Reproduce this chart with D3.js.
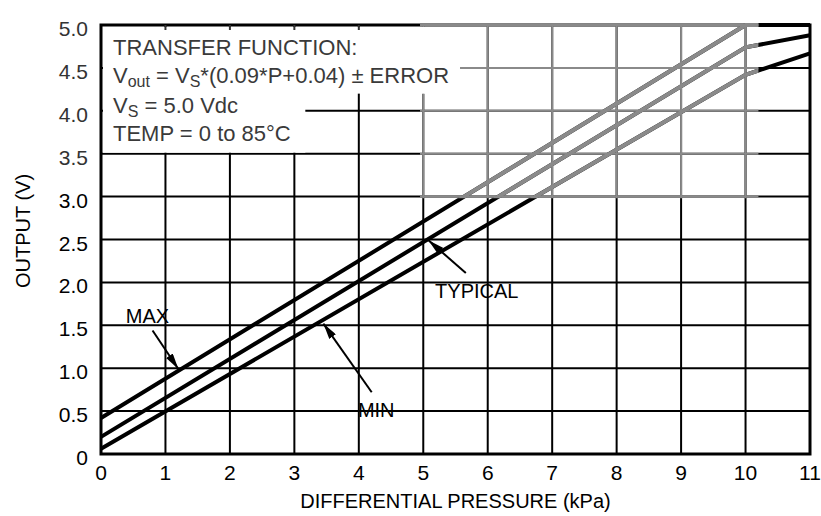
<!DOCTYPE html>
<html>
<head>
<meta charset="utf-8">
<script src="https://cdn.jsdelivr.net/npm/d3@7"></script>
<style>
  body { margin: 0; background: #fff; }
  text { font-family: "Liberation Sans", Arial, sans-serif; }
</style>
</head>
<body>
<script>
// output curves
var pressure = [0, 10, 11];
var maxOut   = [0.42, 5.0, 5.0];
var typOut   = [0.20, 4.74, 4.88];
var minOut   = [0.06, 4.42, 4.67];

var xTicks = [0, 1, 2, 3, 4, 5, 6, 7, 8, 9, 10, 11];
var yTicks = [0, 0.5, 1.0, 1.5, 2.0, 2.5, 3.0, 3.5, 4.0, 4.5, 5.0];
var yTickLabels = ['0', '0.5', '1.0', '1.5', '2.0', '2.5', '3.0', '3.5', '4.0', '4.5', '5.0'];

var WIDTH = 821, HEIGHT = 516;

var svg = d3.select('body').append('svg')
  .attr('width', WIDTH)
  .attr('height', HEIGHT);

var x = d3.scaleLinear().domain([0, 11]).range([101, 810]);
var y = d3.scaleLinear().domain([0, 5]).range([454, 25]);

var series = [maxOut, typOut, minOut].map(function(vals) {
  return vals.map(function(v, i) { return [pressure[i], v]; });
});

var line = d3.line()
  .x(function(d) { return x(d[0]); })
  .y(function(d) { return y(d[1]); });

var defs = svg.append('defs');
defs.append('clipPath').attr('id', 'faded')
  .append('rect')
  .attr('x', 420).attr('y', 0)
  .attr('width', x(10.2) - 420).attr('height', y(2.98));

// grid + curves, drawn once in black and once in grey (the faded part of the scan)
function drawPlot(g, ink) {
  g.selectAll('.vgrid')
    .data(xTicks.slice(1, -1))
    .enter().append('line')
    .attr('x1', x).attr('x2', x)
    .attr('y1', y(0)).attr('y2', y(5))
    .attr('stroke', ink).attr('stroke-width', 2);

  g.selectAll('.hgrid')
    .data(yTicks.slice(1, -1))
    .enter().append('line')
    .attr('x1', x(0)).attr('x2', x(11))
    .attr('y1', y).attr('y2', y)
    .attr('stroke', ink).attr('stroke-width', 2);

  // white box behind the transfer function text
  g.append('rect')
    .attr('x', x(0) + 2).attr('y', y(5) + 2)
    .attr('width', x(3.17) - x(0) - 2).attr('height', y(3.5) - y(5) - 3)
    .attr('fill', '#fff');
  g.append('rect')
    .attr('x', x(3.1)).attr('y', y(5) + 2)
    .attr('width', x(5.57) - x(3.1)).attr('height', y(4.2) - y(5) - 2)
    .attr('fill', '#fff');

  g.selectAll('.curve')
    .data(series)
    .enter().append('path')
    .attr('d', line)
    .attr('fill', 'none')
    .attr('stroke', ink)
    .attr('stroke-width', 4);

  g.append('rect')
    .attr('x', x(0)).attr('y', y(5))
    .attr('width', x(11) - x(0)).attr('height', y(0) - y(5))
    .attr('fill', 'none').attr('stroke', ink).attr('stroke-width', 3);
}

drawPlot(svg.append('g'), '#000');
drawPlot(svg.append('g').attr('clip-path', 'url(#faded)'), '#8a8a8a');

svg.selectAll('.topTick')
  .data(xTicks.slice(1, 5))
  .enter().append('line')
  .attr('x1', x).attr('x2', x)
  .attr('y1', y(5)).attr('y2', y(5) + 5)
  .attr('stroke', '#333').attr('stroke-width', 2);

// axis labels
svg.selectAll('.xlab')
  .data(xTicks)
  .enter().append('text')
  .attr('x', x)
  .attr('y', y(0) + 26)
  .attr('text-anchor', 'middle')
  .attr('font-size', 21)
  .text(function(d) { return d; });

svg.selectAll('.ylab')
  .data(yTicks)
  .enter().append('text')
  .attr('x', 88)
  .attr('y', function(d) { return y(d) + 11; })
  .attr('text-anchor', 'end')
  .attr('font-size', 21)
  .attr('fill', function(d) { return d >= 3.5 ? '#333' : '#000'; })
  .text(function(d, i) { return yTickLabels[i]; });

svg.append('text')
  .attr('x', x(5.5))
  .attr('y', 508)
  .attr('text-anchor', 'middle')
  .attr('font-size', 20)
  .text('DIFFERENTIAL PRESSURE (kPa)');

svg.append('text')
  .attr('transform', 'translate(30,' + y(2.6) + ') rotate(-90)')
  .attr('text-anchor', 'middle')
  .attr('font-size', 20)
  .text('OUTPUT (V)');

// transfer function block
var info = svg.append('g').attr('fill', '#3a3a3a').attr('font-size', 22);
info.append('text').attr('x', 113).attr('y', 55).text('TRANSFER FUNCTION:');
var l2 = info.append('text').attr('x', 113).attr('y', 83);
l2.append('tspan').text('V');
l2.append('tspan').attr('font-size', 16).attr('dy', 4).text('out');
l2.append('tspan').attr('dy', -4).text(' = V');
l2.append('tspan').attr('font-size', 16).attr('dy', 4).text('S');
l2.append('tspan').attr('dy', -4).text('*(0.09*P+0.04) \u00b1 ERROR');
var l3 = info.append('text').attr('x', 113).attr('y', 113);
l3.append('tspan').text('V');
l3.append('tspan').attr('font-size', 16).attr('dy', 4).text('S');
l3.append('tspan').attr('dy', -4).text(' = 5.0 Vdc');
info.append('text').attr('x', 113).attr('y', 141).text('TEMP = 0 to 85\u00b0C');

// callouts
var callouts = [
  {label: 'MAX',     tx: 0.72, ty: 1.53, from: [0.80, 1.44], to: [1.20, 0.99]},
  {label: 'TYPICAL', tx: 5.83, ty: 1.82, from: [5.66, 2.11], to: [5.08, 2.49]},
  {label: 'MIN',     tx: 4.27, ty: 0.43, from: [4.20, 0.72], to: [3.45, 1.52]}
];

defs.append('marker')
  .attr('id', 'head')
  .attr('viewBox', '0 0 16 8')
  .attr('refX', 16).attr('refY', 4)
  .attr('markerWidth', 16).attr('markerHeight', 8)
  .attr('markerUnits', 'userSpaceOnUse')
  .attr('orient', 'auto')
  .append('path').attr('d', 'M0,0 L16,4 L0,8 Z').attr('fill', '#000');

svg.selectAll('.callLine')
  .data(callouts)
  .enter().append('line')
  .attr('x1', function(d) { return x(d.from[0]); })
  .attr('y1', function(d) { return y(d.from[1]); })
  .attr('x2', function(d) { return x(d.to[0]); })
  .attr('y2', function(d) { return y(d.to[1]); })
  .attr('stroke', '#000').attr('stroke-width', 2)
  .attr('marker-end', 'url(#head)');

svg.selectAll('.callText')
  .data(callouts)
  .enter().append('text')
  .attr('x', function(d) { return x(d.tx); })
  .attr('y', function(d) { return y(d.ty); })
  .attr('text-anchor', 'middle')
  .attr('font-size', 20)
  .text(function(d) { return d.label; });
</script>
</body>
</html>
